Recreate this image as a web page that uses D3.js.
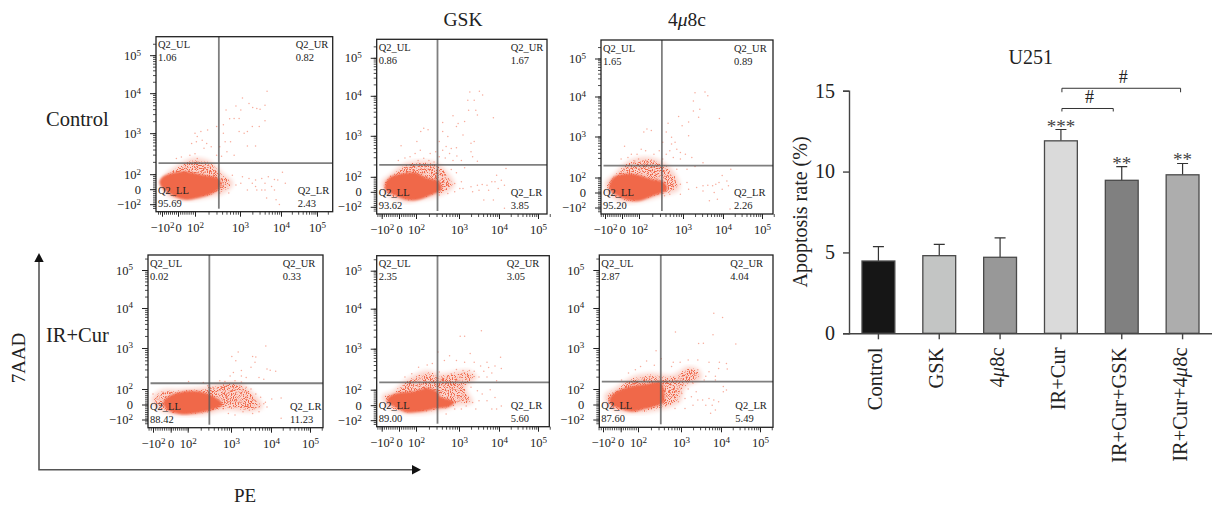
<!DOCTYPE html>
<html>
<head>
<meta charset="utf-8">
<title>U251 apoptosis</title>
<script src="https://cdn.jsdelivr.net/npm/d3@7"></script>
<style>
  html, body { margin: 0; padding: 0; background: #fff; }
  text { font-family: "Liberation Serif", serif; fill: #222; }
</style>
</head>
<body>
<svg id="chart" width="1212" height="507">
  <defs>
    <!-- grainy fill for the medium density part of a cloud, thinning out towards its edge -->
    <filter id="grain" x="-5%" y="-5%" width="110%" height="110%" color-interpolation-filters="sRGB">
      <feTurbulence type="fractalNoise" baseFrequency="0.95" numOctaves="2" seed="4" result="noise"/>
      <feColorMatrix in="noise" type="matrix" values="0 0 0 0 0  0 0 0 0 0  0 0 0 0 0  1 0 0 0 0" result="noiseAlpha"/>
      <feGaussianBlur in="SourceAlpha" stdDeviation="2" result="soft"/>
      <feComposite in="noiseAlpha" in2="soft" operator="arithmetic" k1="1" k2="0" k3="0" k4="0" result="product"/>
      <feComponentTransfer in="product" result="mask">
        <feFuncA type="linear" slope="7" intercept="-3.4"/>
      </feComponentTransfer>
      <feFlood flood-color="#f0684a" result="ink"/>
      <feComposite in="ink" in2="mask" operator="in" result="specks"/>
      <feGaussianBlur in="SourceGraphic" stdDeviation="2" result="base"/>
      <feComponentTransfer in="base" result="paleBase">
        <feFuncA type="linear" slope="0.28"/>
      </feComponentTransfer>
      <feMerge>
        <feMergeNode in="paleBase"/>
        <feMergeNode in="specks"/>
      </feMerge>
    </filter>
    <filter id="softEdge" x="-10%" y="-10%" width="120%" height="120%">
      <feGaussianBlur stdDeviation="0.8"/>
    </filter>
  </defs>
</svg>
<script>
//////////////////// data
// bar chart
const categories = ["Control", "GSK", "4μ8c", "IR+Cur", "IR+Cur+GSK", "IR+Cur+4μ8c"];
const apoptosisRate = [4.47, 4.8, 4.7, 11.9, 9.46, 9.8];
const apoptosisErrTop = [5.36, 5.5, 5.9, 12.6, 10.3, 10.5];
const barStars = ["", "", "", "***", "**", "**"];
const barTicks = [0, 5, 10, 15];

// flow panels: axis values are display channels, -2 = -10^2, 0 = 0, 2 = 10^2, 3 = 10^3 ...
const channelTicks = [-2, 0, 2, 3, 4, 5];
const tickBase = ["−10", "0", "10", "10", "10", "10"];
const tickExp = ["2", "", "2", "3", "4", "5"];
const quadNames = ["Q2_UL", "Q2_UR", "Q2_LL", "Q2_LR"];
const controlPct = ["1.06", "0.82", "95.69", "2.43"];
const gskPct = ["0.86", "1.67", "93.62", "3.85"];
const u48cPct = ["1.65", "0.89", "95.20", "2.26"];
const irCurPct = ["0.02", "0.33", "88.42", "11.23"];
const irCurGskPct = ["2.35", "3.05", "89.00", "5.60"];
const irCurU48cPct = ["2.87", "4.04", "87.60", "5.49"];
const gateX = [2.53, 2.5, 2.52, 2.5, 2.5, 2.53];
const gateY = [2.27, 2.29, 2.29, 2.14, 2.18, 2.18];

// outlines of the solid part of each cloud and of the paler part around it
const controlCore = [[-2.2,1],[-1.8,1.6],[-.8,2],[.6,2.05],[2,2],[2.25,1.7],[2.5,1.35],[2.55,.5],[2.4,-.4],[2.1,-1],[1,-1.3],[-.2,-.96],[-1.4,-.17],[-2.1,.57]];
const controlHalo = [[-2.2,.8],[-1.6,2],[-.2,2.2],[1.8,2.4],[2.33,2.32],[2.6,2.05],[2.85,.8],[2.65,-.5],[2.2,-1.2],[1.2,-1.5],[-.6,-1.3],[-2,-.1]];
const gskCore = [[-1.53,.89],[-1.06,1.78],[.12,2.05],[1.9,2.08],[2.25,1.7],[2.5,1.35],[2.58,.44],[2.35,-.3],[2,-1],[.7,-.9],[-.67,-.22],[-1.45,.22]];
const gskHalo = [[-2,1.33],[-1.06,2.05],[.7,2.33],[2.17,2.4],[2.5,2.33],[2.77,2.06],[2.9,.89],[2.6,-.4],[2.1,-1.1],[.7,-1.4],[-1.45,-.44]];
const u48cCore = [[-1.37,1.1],[-.86,2],[.3,2.07],[2,2.04],[2.25,1.7],[2.55,1.3],[2.62,.44],[2.38,-.2],[2,-1],[.7,-.9],[-.67,-.22],[-1.37,.44]];
const u48cHalo = [[-2,1.33],[-.86,2.1],[.7,2.4],[2.17,2.5],[2.55,2.38],[2.85,2.05],[2.92,.44],[2.5,-.5],[2.05,-1.2],[.5,-1.4],[-1.45,-.44]];
const irCurCore = [[-.67,.5],[.7,1.36],[2.05,1.66],[2.42,1.36],[2.65,.72],[2.78,.09],[2.58,-.55],[2.28,-.98],[1.3,-1.2],[-.08,-.77],[-.67,-.13]];
const irCurHalo = [[-2.2,.72],[-1.25,1.8],[1.1,2],[2.36,2.05],[2.83,2.15],[3.2,2.15],[3.5,1.8],[3.8,-.3],[3.5,-.98],[2.9,-.77],[2.36,-1.4],[.7,-1.4],[-1.65,-.55]];
const irCurGskCore = [[-1.25,.78],[-.27,1.43],[1.7,1.65],[2.28,2.02],[2.48,1.65],[2.56,1],[2.87,.35],[2.75,-.1],[2.48,-.3],[2.1,-.74],[.9,-.83],[-.47,-.09],[-1.15,.35]];
const irCurGskHalo = [[-2,1.2],[-.67,1.87],[.9,2.26],[2.25,2.47],[2.56,2.39],[3.25,2.47],[3.45,2.3],[3.18,2.06],[3.35,.35],[2.95,-.1],[2.56,-.74],[1.5,-1.17],[-1.05,-.52]];
const irCurU48cCore = [[-1.18,.7],[-.27,1.65],[1.1,2.04],[2.2,2.1],[2.52,2.14],[2.58,.35],[2.52,.13],[2.13,-.52],[1.3,-.83],[-.08,-.43],[-1.06,.13]];
const irCurU48cHalo = [[-1.85,1.2],[-.47,2.05],[1.3,2.3],[2.3,2.39],[2.8,2.35],[3.18,2.55],[3.45,2.47],[3.52,2.26],[3.1,2.02],[2.98,.35],[2.52,-.74],[1.5,-1.17],[-1.25,-.52]];

// single events outside the solid clouds
const controlDots = [[3.66,4.05],[3.06,3.88],[2.69,3.58],[3.22,3.74],[3.31,3.64],[3.61,3.7],[2.91,3.68],[3.41,3.62],[3.49,3.6],[3.02,3.58],[2.87,3.37],[2.77,3.36],[2.98,3.37],[2.63,3.21],[3.61,3.31],[3.47,3.17],[3.3,3.17],[2.98,3.04],[3.1,3],[3.18,3.04],[2.48,3.17],[2.63,3],[3.18,2.69],[3.38,2.69],[2.79,2.79],[2.67,2.79],[2.55,2.67],[2.71,2.55],[2.59,2.44],[2.48,2.46],[2.87,2.46],[2.36,2.67],[2.28,3.08],[2.13,3.04],[2,3],[2.05,2.92],[1.6,2.75],[2.03,2.79],[2.16,2.83],[2.26,2.75],[2.2,2.63],[2,2.5],[1.4,2.46],[.4,2.42],[-.2,2.38],[2.05,2.38],[3.06,1.65],[3.22,1.43],[3.38,1.22],[3.53,1.43],[3.69,1.65],[3.84,1.3],[4.04,2.05],[4.12,.78],[3.96,-2.04],[3.88,-1.39],[3.65,-1.17],[3.53,-.09],[3.38,.35],[3.3,.78],[3.02,.78],[3.61,-.09],[3.77,.35],[3.18,-.09],[2.91,.57],[2.83,1.87],[2.67,1.22],[2.63,.35],[2.59,.78],[2.75,-.52],[2.55,-.52],[3.41,-.09],[3.84,-.09],[3.92,1.22],[3.61,.78]];
const gskDots = [[3.27,4.1],[3.51,4.12],[3.22,3.89],[3.59,4.02],[3.38,3.89],[3.24,3.64],[3.42,3.64],[3.46,3.52],[3.86,3.45],[2.86,3.5],[3.14,3.36],[2.98,3.31],[2.94,3.23],[2.62,3.33],[2.74,2.98],[3.1,3.02],[2.62,3.11],[2.54,2.86],[3.38,2.86],[3.3,2.82],[3.3,2.61],[3.34,2.49],[3.46,2.38],[2.82,2.69],[2.94,2.71],[2.7,2.74],[2.62,2.65],[2.78,2.57],[2.95,2.51],[2.54,2.49],[2.68,2.46],[2.86,2.4],[3.06,2.4],[2.18,3.19],[2.28,3.15],[2.11,3.11],[2.02,2.86],[.24,2.76],[2.1,2.65],[1.9,2.57],[2.33,2.57],[2.46,2.61],[1.3,2.49],[2.18,2.45],[.7,2.46],[-.08,2.4],[2.3,2.4],[2.42,2.36],[2.05,2.4],[2.62,2.04],[2.78,1.55],[2.9,1.1],[3.06,1.33],[3.1,.44],[3.3,.67],[3.46,.89],[3.58,.98],[3.7,.89],[3.82,1.33],[3.94,2.04],[3.9,1.33],[4.06,1.55],[4.18,2.2],[4.14,.89],[3.98,.44],[3.74,.22],[3.62,-1.1],[3.86,-1.1],[4.14,-2.2],[3.5,.22],[3.34,0],[2.9,0],[2.74,-.22],[2.66,2.1],[2.94,2.1],[2.82,2.18],[3.14,2.22],[2.54,-.44],[3.02,.44]];
const u48cDots = [[3.3,4.1],[3.55,4.12],[3.62,4.02],[3.26,3.89],[3.26,3.64],[3.42,3.68],[3.39,3.48],[3.91,3.45],[2.9,3.5],[3.14,3.36],[2.98,3.27],[2.66,3.33],[2.74,2.98],[3.14,3.02],[2.62,3.11],[2.54,2.86],[2.82,2.86],[2.74,2.82],[2.86,2.69],[2.7,2.65],[2.94,2.61],[2.62,2.57],[3.06,2.57],[3.22,2.49],[3.5,2.36],[2.78,2.49],[2.54,2.45],[2.94,2.45],[2.18,3.19],[2.28,3.15],[2.11,3.11],[.3,2.76],[2.05,2.69],[1.77,2.57],[2.15,2.65],[2.46,2.65],[2.34,2.57],[1.1,2.57],[-.1,2.45],[.7,2.49],[1.95,2.45],[2.18,2.4],[2.34,2.4],[1.5,2.4],[2.66,2.04],[2.82,1.55],[2.94,1.1],[2.78,.44],[3.1,1.33],[3.14,.44],[3.34,.67],[3.5,.89],[3.62,.98],[3.74,.89],[3.82,1.1],[3.98,2.05],[3.9,1.33],[4.1,1.55],[4.2,2.2],[4.14,.89],[3.98,.44],[3.78,0],[3.66,-1.1],[3.86,-.9],[4.18,-2.2],[2.94,-.22],[2.7,-.22],[2.86,2.2],[3.1,2.2],[3.3,2.27],[3.5,.2],[2.58,-.44]];
const irCurDots = [[3.87,3.05],[3.18,2.9],[3.02,2.79],[3.54,2.79],[3.62,2.78],[3.6,2.65],[3.12,2.69],[3.5,2.53],[3.26,2.45],[3.9,2.49],[4.12,2.43],[3.98,2.46],[3.06,2.4],[3.26,2.32],[2.98,2.32],[3.38,2.28],[3.82,2.24],[3.7,2.28],[3.1,2.2],[2.74,2.2],[2.02,2.18],[2.36,2.16],[2.86,2.18],[3.26,2.17],[2.9,2.08],[3.06,2.04],[3.22,2.08],[3.38,2.04],[3.5,2],[3.62,1.36],[3.74,.94],[3.86,.3],[3.9,-.34],[3.7,-.34],[3.54,.51],[3.38,.94],[3.26,1.36],[3.14,1.57],[2.98,1.79],[2.86,1.57],[2.94,.72],[3.1,.51],[3.26,.3],[3.42,-.13],[3.58,-.55],[3.7,-.98],[3.82,.09],[3.54,-1.19],[4.26,.85],[4.26,-1.83],[4.02,.72],[3.1,-1.4],[2.94,-1.19],[3.3,-.98],[2.82,-.55],[3.46,-.77],[3.1,-.34],[3.26,-.34],[2.98,.09],[2.82,.72],[2.7,1.79],[2.58,2.04],[2.46,2.08],[3.42,1.57],[-2,1.36],[-.86,1.57]];
const irCurGskDots = [[3.56,3.45],[3.03,3.31],[3.14,3.31],[4.04,2.79],[3.28,2.88],[2.78,2.83],[2.51,2.92],[2.66,2.71],[2.94,2.71],[3.14,2.67],[3.38,2.67],[3.7,2.67],[4.06,2.52],[3.9,2.58],[3.74,2.54],[3.54,2.58],[3.62,2.45],[3.82,2.41],[3.7,2.31],[3.94,2.22],[3.5,2.31],[3.26,2.47],[3.38,2.45],[3.1,2.47],[2.94,2.49],[2.82,2.39],[3.02,2.31],[2.54,2.43],[2.38,2.64],[2.26,2.6],[2.06,2.55],[1.5,2.39],[.7,2.31],[2.9,2.1],[3.1,2],[3.3,2.06],[3.46,1.87],[3.5,.57],[3.34,.35],[3.58,1.43],[3.78,2],[3.9,1],[3.94,-.52],[3.7,.57],[3.82,-.52],[4.06,-.09],[3.42,-.52],[3.18,-.09],[3.06,-.52],[2.7,-1.17],[2.9,-.52],[3.18,.78],[3.02,.57]];
const irCurU48cDots = [[3.82,3.87],[4.04,3.76],[2.87,3.4],[3.8,3.33],[4.38,3.1],[3.56,3.12],[3.44,3.11],[2.42,2.93],[2.54,2.74],[2.2,2.68],[2.38,2.58],[2.82,2.65],[2.98,2.65],[3.18,2.71],[3.42,2.71],[3.7,2.65],[3.96,2.65],[4.14,2.62],[4.16,2.49],[3.94,2.5],[3.7,2.42],[3.86,2.31],[3.62,2.31],[3.42,2.47],[2.78,2.55],[2.06,2.55],[1.7,2.47],[.9,2.39],[.1,2.22],[3.86,2.22],[3.58,2.22],[3.3,2.14],[4.06,2.06],[4.14,1.87],[4.06,1.65],[3.18,2],[3.38,1.65],[3.26,1],[3.42,.57],[3.54,.57],[3.7,.78],[3.82,.57],[3.94,.35],[3.78,-.09],[3.62,-.09],[3.74,-1.17],[3.86,-.74],[3.1,-.52],[2.86,-.52],[2.94,.35],[3.1,.78],[3.3,-.09],[2.86,1.65],[3.02,1.43]];

//////////////////// layout
// offsets from panel top, same order as channelTicks
const TOP_Y_TICKS = [167.5, 152.5, 137.5, 96.5, 56.5, 18.5];
const BOTTOM_Y_TICKS = [164.5, 149.5, 134, 93, 53, 15];

const panels = [
  { left: 156, top: 36.7, w: 176.7, h: 175, yOff: TOP_Y_TICKS, xOff: [6, 22, 39, 84, 125, 161], urX: 139.7, lrX: 141.7, pct: controlPct, core: controlCore, halo: controlHalo, dots: controlDots },
  { left: 376.7, top: 39.3, w: 170.3, h: 174.7, yOff: TOP_Y_TICKS, xOff: [5, 22.3, 39.3, 82.3, 122.3, 161.3], urX: 134, lrX: 134, pct: gskPct, core: gskCore, halo: gskHalo, dots: gskDots },
  { left: 601, top: 40, w: 172, h: 174, yOff: TOP_Y_TICKS, xOff: [4, 21, 38, 82, 122, 161], urX: 133, lrX: 133, pct: u48cPct, core: u48cCore, halo: u48cHalo, dots: u48cDots },
  { left: 148, top: 255, w: 175, h: 172.7, yOff: BOTTOM_Y_TICKS, xOff: [5, 22.7, 39.7, 83, 123, 162], urX: 134.7, lrX: 142, pct: irCurPct, core: irCurCore, halo: irCurHalo, dots: irCurDots },
  { left: 376.7, top: 255.7, w: 172.6, h: 171, yOff: BOTTOM_Y_TICKS, xOff: [5, 22.3, 39.3, 82.3, 122.3, 161.3], urX: 130, lrX: 134, pct: irCurGskPct, core: irCurGskCore, halo: irCurGskHalo, dots: irCurGskDots },
  { left: 599.3, top: 255, w: 173.7, h: 172.3, yOff: BOTTOM_Y_TICKS, xOff: [3.7, 21.4, 38.7, 81.7, 121.7, 160.7], urX: 131, lrX: 136, pct: irCurU48cPct, core: irCurU48cCore, halo: irCurU48cHalo, dots: irCurU48cDots },
];

const svg = d3.select("#chart");
const DOT_COLOR = "#f0684a";

// minor ticks: even comb in the linear part, log spacing above it
const linearMinor = d3.range(-2.5, 2, 0.25);
const logMinor = [2, 3, 4, 5].flatMap((d) => d3.range(1, 10).map((k) => d + Math.log10(k)));
const minorTicks = linearMinor.concat(logMinor.filter((v) => v < 5.42));

function drawFlowPanel(p, i) {
  const g = svg.append("g");
  const x = d3.scaleLinear().domain(channelTicks).range(p.xOff.map((o) => p.left + o));
  const y = d3.scaleLinear().domain(channelTicks).range(p.yOff.map((o) => p.top + o));
  const right = p.left + p.w;
  const bottom = p.top + p.h;
  const outline = d3.line().x((d) => x(d[0])).y((d) => y(d[1])).curve(d3.curveCatmullRomClosed);

  g.append("path").attr("d", outline(p.halo)).attr("fill", DOT_COLOR).attr("filter", "url(#grain)");
  g.append("path").attr("d", outline(p.core)).attr("fill", DOT_COLOR)
    .attr("stroke", DOT_COLOR).attr("stroke-width", 2).attr("stroke-linejoin", "round")
    .attr("filter", "url(#softEdge)");

  g.selectAll(".dot")
    .data(p.dots)
    .enter()
    .append("circle")
    .attr("class", "dot")
    .attr("cx", (d) => x(d[0]))
    .attr("cy", (d) => y(d[1]))
    .attr("r", 0.75)
    .attr("fill", DOT_COLOR)
    .attr("opacity", 0.55);

  // gates
  g.append("line").attr("x1", x(gateX[i])).attr("x2", x(gateX[i])).attr("y1", p.top).attr("y2", bottom - 3)
    .attr("stroke", "#555").attr("stroke-width", 1.8).attr("opacity", 0.75);
  g.append("line").attr("x1", p.left + 2.5).attr("x2", right).attr("y1", y(gateY[i])).attr("y2", y(gateY[i]))
    .attr("stroke", "#555").attr("stroke-width", 1.8).attr("opacity", 0.75);

  g.append("rect").attr("x", p.left).attr("y", p.top).attr("width", p.w).attr("height", p.h)
    .attr("fill", "none").attr("stroke", "#222").attr("stroke-width", 1.3);

  // axes, minor comb first and labelled ticks on top
  const xMinor = d3.axisBottom(x).tickValues(minorTicks).tickSize(3).tickFormat("");
  const yMinor = d3.axisLeft(y).tickValues(minorTicks).tickSize(3).tickFormat("");
  const xMajor = d3.axisBottom(x).tickValues(channelTicks).tickSize(5).tickPadding(6).tickFormat((d, k) => tickBase[k]);
  const yMajor = d3.axisLeft(y).tickValues(channelTicks).tickSize(6).tickPadding(9).tickFormat((d, k) => tickBase[k]);

  [
    [xMinor, `translate(0,${bottom})`],
    [yMinor, `translate(${p.left},0)`],
  ].forEach(([axis, tr]) => {
    const a = g.append("g").attr("transform", tr).call(axis);
    a.select(".domain").remove();
    a.selectAll("text").remove();
    a.selectAll("line").attr("stroke", "#222").attr("stroke-width", 0.8);
  });

  [
    [xMajor, `translate(0,${bottom})`],
    [yMajor, `translate(${p.left},0)`],
  ].forEach(([axis, tr]) => {
    const a = g.append("g").attr("transform", tr).call(axis);
    a.select(".domain").remove();
    a.selectAll("line").attr("stroke", "#222").attr("stroke-width", 1);
    a.attr("font-family", null).attr("font-size", null);
    a.selectAll("text").style("font-size", "12.5px").each(function (d, k) {
      if (tickExp[k]) {
        d3.select(this).append("tspan").attr("dy", "-0.45em").style("font-size", "9px").text(tickExp[k]);
      }
    });
  });

  // quadrant names and percentages
  const xs = [2, p.urX, 2, p.lrX];
  const ys = [11.5, 11.5, p.h - 18, p.h - 18];
  quadNames.forEach((name, k) => {
    g.append("text").attr("x", p.left + xs[k]).attr("y", p.top + ys[k]).style("font-size", "10.5px").text(name);
    g.append("text").attr("x", p.left + xs[k]).attr("y", p.top + ys[k] + 13).style("font-size", "10.5px").text(p.pct[k]);
  });
}
panels.forEach(drawFlowPanel);

//////////////////// plain labels
// the mu is italic every time it shows up
function addLabel(sel, str) {
  str.split("μ").forEach((part, k) => {
    if (k > 0) sel.append("tspan").style("font-style", "italic").text("μ");
    sel.append("tspan").text(part);
  });
}
function plainLabel(str, px, py, size, anchor, rotate) {
  const t = svg.append("text")
    .attr("text-anchor", anchor || "middle")
    .style("font-size", size + "px")
    .attr("transform", `translate(${px},${py})` + (rotate ? ` rotate(${rotate})` : ""));
  addLabel(t, str);
}
plainLabel("GSK", 463, 26, 19.5);
plainLabel("4μ8c", 687, 26, 19.5);
plainLabel("Control", 46, 126, 20.5, "start");
plainLabel("IR+Cur", 46, 342, 20.5, "start");
plainLabel("7AAD", 25, 358, 19, "middle", -90);
plainLabel("PE", 245, 502, 19);

// big L shaped arrows
svg.append("path").attr("d", "M39,261V469.7H412").attr("fill", "none").attr("stroke", "#555").attr("stroke-width", 1.6);
svg.append("path").attr("d", "M39,253L34.3,262H43.7Z").attr("fill", "#111");
svg.append("path").attr("d", "M421,469.7L412,465V474.4Z").attr("fill", "#111");

//////////////////// bar chart
const barX = d3.scaleBand().domain(categories).range([848, 1213]).paddingInner(0.46).paddingOuter(0.23);
const barY = d3.scaleLinear().domain([0, 15]).range([333.3, 90.7]);
const barFills = ["#161616", "#c3c5c4", "#989898", "#dadada", "#808080", "#adadad"];
const AXIS_GREY = "#444";

const bars = svg.append("g");
bars.selectAll(".err")
  .data(categories)
  .enter()
  .append("path")
  .attr("class", "err")
  .attr("d", (d, i) => {
    const cx = barX(d) + barX.bandwidth() / 2;
    return `M${cx},${barY(apoptosisRate[i])}V${barY(apoptosisErrTop[i])}M${cx - 5.5},${barY(apoptosisErrTop[i])}H${cx + 5.5}`;
  })
  .attr("fill", "none")
  .attr("stroke", "#333")
  .attr("stroke-width", 1.2);

bars.selectAll(".bar")
  .data(categories)
  .enter()
  .append("rect")
  .attr("class", "bar")
  .attr("x", (d) => barX(d))
  .attr("y", (d, i) => barY(apoptosisRate[i]))
  .attr("width", barX.bandwidth())
  .attr("height", (d, i) => barY(0) - barY(apoptosisRate[i]))
  .attr("fill", (d, i) => barFills[i])
  .attr("stroke", "#4a4a4a")
  .attr("stroke-width", 1.3);

// stars sit just over the error caps
bars.selectAll(".stars")
  .data(categories)
  .enter()
  .append("text")
  .attr("class", "stars")
  .attr("x", (d) => barX(d) + barX.bandwidth() / 2)
  .attr("y", (d, i) => barY(apoptosisErrTop[i]) + 3)
  .attr("text-anchor", "middle")
  .style("font-size", "19px")
  .style("fill", "#444")
  .text((d, i) => barStars[i]);

const yAxisBar = svg.append("g")
  .attr("transform", "translate(849,0)")
  .call(d3.axisLeft(barY).tickValues(barTicks).tickSize(6).tickPadding(8));
yAxisBar.attr("font-family", null).attr("font-size", null);
yAxisBar.selectAll("text").style("font-size", "20px");
yAxisBar.selectAll("line,path").attr("stroke", AXIS_GREY).attr("stroke-width", 1.4);

const xAxisBar = svg.append("g")
  .attr("transform", `translate(0,${barY(0)})`)
  .call(d3.axisBottom(barX).tickSize(6).tickSizeOuter(0).tickFormat(""));
xAxisBar.selectAll("line,path").attr("stroke", AXIS_GREY).attr("stroke-width", 1.4);
xAxisBar.selectAll("text").remove();

categories.forEach((c) => {
  plainLabel(c, barX(c) + barX.bandwidth() / 2 + 4, 347.5, 20.5, "end", -90);
});

plainLabel("U251", 1030.7, 64, 20);
plainLabel("Apoptosis rate (%)", 806.5, 212, 20, "middle", -90);

// comparison brackets, anchored on the bars they compare
function bracket(from, to, level, legPx) {
  const x1 = barX(from) + barX.bandwidth() / 2 + 1;
  const x2 = barX(to) + barX.bandwidth() / 2 - (to === "IR+Cur+GSK" ? 8.5 : 2);
  const yy = barY(level);
  svg.append("path").attr("d", `M${x1},${yy + legPx}V${yy}H${x2}V${yy + legPx}`)
    .attr("fill", "none").attr("stroke", "#333").attr("stroke-width", 1);
  svg.append("text").attr("x", (x1 + x2) / 2 + 2).attr("y", yy - 5).attr("text-anchor", "middle")
    .style("font-size", "18px").text("#");
}
bracket("IR+Cur", "IR+Cur+GSK", 13.9, 3);
bracket("IR+Cur", "IR+Cur+4μ8c", 15.15, 4);
</script>
</body>
</html>
